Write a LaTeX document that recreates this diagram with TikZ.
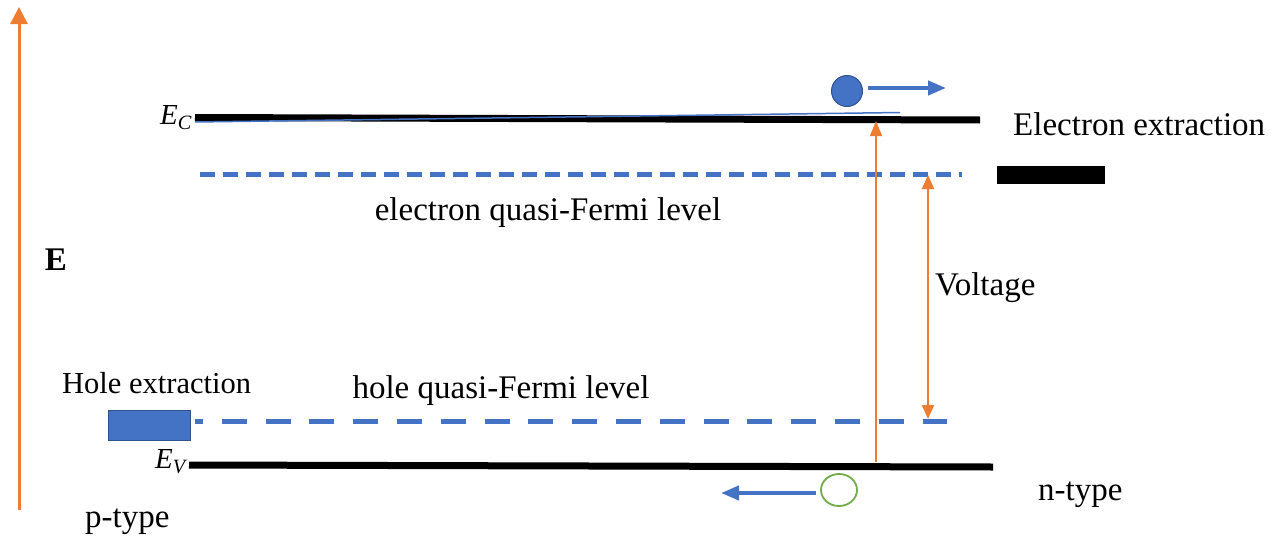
\documentclass[tikz,border=0pt]{standalone}
\usepackage{fontspec}
\setmainfont{Liberation Serif}
\usetikzlibrary{positioning}
\usetikzlibrary{shapes.geometric, arrows.meta}

\definecolor{axisorange}{RGB}{237,125,49}
\definecolor{fermiblue}{RGB}{68,114,196}
\definecolor{edgeblue}{RGB}{47,82,143}
\definecolor{holegreen}{RGB}{112,173,71}

\begin{document}
\begin{tikzpicture}[x=1pt, y=-1pt]
    \tikzstyle{lbl} = [inner sep=0pt, font=\fontsize{33}{36}\selectfont]
    \tikzstyle{elbl} = [inner sep=0pt, font=\fontsize{33}{36}\selectfont\bfseries]
    \tikzstyle{mathlbl} = [inner sep=0pt, font=\fontsize{29}{32}\selectfont\itshape]
    \tikzstyle{band} = [draw, black, line width=7pt]
    \tikzstyle{fermi} = [draw, fermiblue, line width=5pt]
    \tikzstyle{energy} = [draw, axisorange, line width=3pt,
    -{Triangle[length=17pt, width=17pt]}]
    \tikzstyle{pump} = [draw, axisorange, line width=1.5pt,
    -{Triangle[length=15pt, width=12pt]}]
    \tikzstyle{volt} = [draw, axisorange, line width=2pt,
    {Triangle[length=14pt, width=12pt]}-{Triangle[length=14pt, width=12pt]}]
    \tikzstyle{move} = [draw, fermiblue, line width=4pt,
    -{Triangle[length=18pt, width=14pt]}]
    \useasboundingbox (0,0) rectangle (1283,541);

    % energy axis
    \coordinate (axisbot) at (19,510);
    \coordinate (axistop) at (19,7);
    \draw [energy] (axisbot) -- (axistop);
    \node [elbl] (eaxis) at (56,260) {E};

    % band edges
    \coordinate (ecL) at (195,117.5);
    \coordinate (ecR) at (980,120);
    \coordinate (evL) at (189,465);
    \coordinate (evR) at (993,467);
    \draw [band] (ecL) -- (ecR);
    \draw [band] (evL) -- (evR);
    \coordinate (skimL) at (195,122);
    \coordinate (skimR) at (900,112.5);
    \draw [fermiblue, line width=1.5pt] (skimL) -- (skimR);
    \node [mathlbl, left=3pt of ecL] (eclabel) {E\textsubscript{C}};
    \node [mathlbl, left=3pt of evL, yshift=3pt] (evlabel) {E\textsubscript{V}};

    % quasi-Fermi levels
    \coordinate (efL) at (200,174);
    \coordinate (efR) at (962,174);
    \coordinate (hfL) at (195,421);
    \coordinate (hfR) at (947,421);
    \path [fermi, dash pattern=on 15pt off 8pt] (efL) -- (efR);
    \path [fermi, dash pattern=on 25pt off 18.8pt, dash phase=17pt] (hfL) -- (hfR);
    \node [lbl] (eflabel) at (548,213) {electron quasi-Fermi level};
    \node [lbl] (hflabel) at (501,391) {hole quasi-Fermi level};

    % contacts
    \node [fill=black, minimum width=108pt, minimum height=18pt, inner sep=0pt]
    (ebox) at (1051,175) {};
    \node [fill=fermiblue, draw=edgeblue, line width=1pt, minimum width=82pt,
    minimum height=30pt, inner sep=0pt] (hbox) at (149,425) {};
    \node [lbl, anchor=west] (eextr) at (1013,124) {Electron extraction};
    \node [lbl, anchor=west, font=\fontsize{30.5}{33}\selectfont]
    (hextr) at (62,383) {Hole extraction};

    % carriers
    \node [circle, fill=fermiblue, draw=edgeblue, line width=1pt,
    minimum size=31pt, inner sep=0pt] (electron) at (847,91) {};
    \coordinate (egoal) at (946,88);
    \path [move, shorten <=5pt] ([yshift=3pt]electron.east) -- (egoal);
    \node [ellipse, draw=holegreen, line width=1.8pt, minimum width=36pt,
    minimum height=32pt, inner sep=0pt] (hole) at (839,490) {};
    \coordinate (hgoal) at (721,493);
    \path [move, shorten <=4pt] ([yshift=-3pt]hole.west) -- (hgoal);

    % excitation and voltage
    \coordinate (pumpbot) at (876,462);
    \coordinate (pumptop) at (876,121);
    \path [pump] (pumpbot) -- (pumptop);
    \coordinate (vtop) at (928,175);
    \coordinate (vbot) at (928,419);
    \path [volt] (vtop) -- (vbot);
    \node [lbl, anchor=west] (voltage) at (935,288) {Voltage};

    \node [lbl, anchor=west] (ntype) at (1038,495) {n-type};
    \node [lbl, anchor=west] (ptype) at (85,522) {p-type};
\end{tikzpicture}
\end{document}
